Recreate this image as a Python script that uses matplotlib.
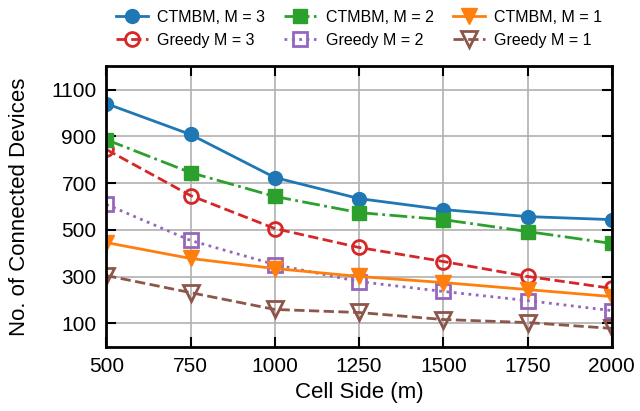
import numpy as np
import matplotlib.pyplot as plt

plt.rcParams['font.family'] = ['Liberation Sans', 'DejaVu Sans']

cell_side = [500, 750, 1000, 1250, 1500, 1750, 2000]
ctmbm_3 = [1040, 908, 724, 634, 587, 557, 544]
ctmbm_2 = [886, 745, 643, 574, 544, 493, 442]
ctmbm_1 = [446, 378, 335, 301, 275, 245, 215]
greedy_3 = [844, 647, 506, 425, 365, 301, 250]
greedy_2 = [609, 455, 352, 279, 237, 198, 155]
greedy_1 = [305, 232, 160, 147, 117, 104, 79]

fig = plt.figure(figsize=(6.4, 4.11), dpi=100)
ax = fig.add_axes([0.166, 0.156, 0.79, 0.683])

lw = 2
ax.plot(cell_side, ctmbm_3, '-o', color='tab:blue', lw=lw, ms=10, label='CTMBM, M = 3')
ax.plot(cell_side, greedy_3, '--o', color='tab:red', lw=lw, ms=10, mfc='none', mew=2, label='Greedy M = 3')
ax.plot(cell_side, ctmbm_2, '-.s', color='tab:green', lw=lw, ms=9.5, label='CTMBM, M = 2')
ax.plot(cell_side, greedy_2, ':s', color='tab:purple', lw=lw, ms=9.5, mfc='none', mew=2, label='Greedy M = 2')
ax.plot(cell_side, ctmbm_1, '-v', color='tab:orange', lw=lw, ms=11, label='CTMBM, M = 1')
ax.plot(cell_side, greedy_1, '--v', color='tab:brown', lw=lw, ms=11, mfc='none', mew=2, label='Greedy M = 1')

ax.set_xlim(500, 2000)
ax.set_ylim(0, 1200)
ax.set_xticks(range(500, 2001, 250))
ax.set_yticks(range(100, 1101, 200))
ax.grid(True, color='#b0b0b0', lw=1.2)
ax.tick_params(direction='in', top=True, right=True, length=7, width=1.5, labelsize=15, pad=7)
for s in ax.spines.values():
    s.set_linewidth(2)
ax.set_xlabel('Cell Side (m)', fontsize=16)
ax.set_ylabel('No. of Connected Devices', fontsize=16)
ax.xaxis.set_label_coords(0.5, -0.125)
ax.yaxis.set_label_coords(-0.15, 0.5)

ax.legend(loc='lower center', bbox_to_anchor=(0.5, 1.0), ncol=3, frameon=False,
          fontsize=11.5, handlelength=2.0, columnspacing=1.2, labelspacing=0.5,
          handletextpad=0.6, borderaxespad=0.75)

fig.savefig('out.png', dpi=100)
